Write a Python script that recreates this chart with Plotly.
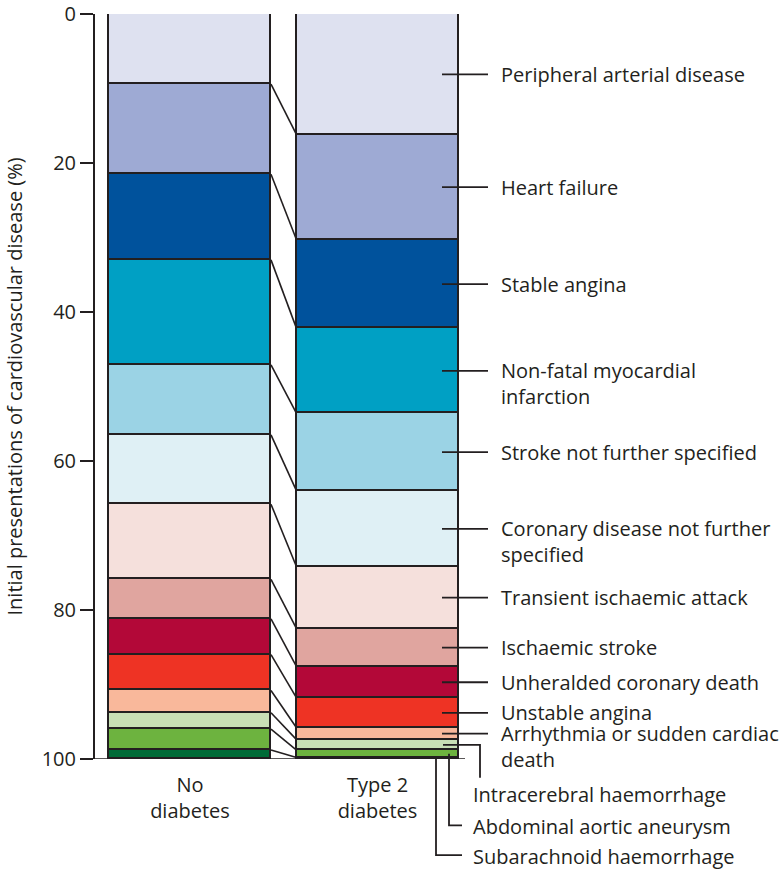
import plotly.graph_objects as go

# ---------------- data ----------------
groups = ["No<br>diabetes", "Type 2<br>diabetes"]
categories = [
    "Peripheral arterial disease",
    "Heart failure",
    "Stable angina",
    "Non-fatal myocardial<br>infarction",
    "Stroke not further specified",
    "Coronary disease not further<br>specified",
    "Transient ischaemic attack",
    "Ischaemic stroke",
    "Unheralded coronary death",
    "Unstable angina",
    "Arrhythmia or sudden cardiac<br>death",
    "Intracerebral haemorrhage",
    "Abdominal aortic aneurysm",
    "Subarachnoid haemorrhage",
]
no_diabetes = [9.4, 12.1, 11.5, 14.1, 9.4, 9.3, 10.1, 5.3, 4.8, 4.8, 3.0, 2.2, 2.8, 1.2]
type2_diabetes = [16.2, 14.1, 11.9, 11.4, 10.4, 10.2, 8.3, 5.1, 4.2, 4.0, 1.6, 1.4, 1.0, 0.2]
colors = [
    "#dee1f0", "#9eaad4", "#00529c", "#00a0c4", "#9bd3e5", "#dff0f5", "#f5e0dc",
    "#e0a59f", "#b30838", "#ee3324", "#f9b89b", "#c8dfb5", "#6db33f", "#006b37",
]
y_ticks = [0, 20, 40, 60, 80, 100]
y_title = "Initial presentations of cardiovascular disease (%)"

# ---------------- layout geometry ----------------
W, H = 783, 871
ML, MR, MT, MB = 95, 0, 7, 112
PW, PH = W - ML - MR, H - MT - MB
UNIT = 187.5                      # pixels between bar centres
XMIN = -(190 - ML) / UNIT
XMAX = XMIN + PW / UNIT
BARW = 162 / UNIT
INK = "#231f20"
FONT = "Open Sans"
FS = 20


def xp(px):
    return XMIN + (px - ML) / UNIT


def px_paper(px):
    return (px - ML) / PW


def py_paper(px):
    return 1 - (px - MT) / PH


def val_paper(v):
    return 1 - v / 100.0


def cum(vals):
    out = [0.0]
    for v in vals:
        out.append(out[-1] + v)
    return out


fig = go.Figure()
for i, cat in enumerate(categories):
    fig.add_trace(go.Bar(
        x=[0, 1], y=[no_diabetes[i], type2_diabetes[i]],
        name=cat.replace("<br>", " "), width=BARW,
        marker=dict(color=colors[i], line=dict(color=INK, width=1.6)),
        hoverinfo="name+y",
    ))

shapes = []
c0, c1 = cum(no_diabetes), cum(type2_diabetes)
# connectors between the bars
for k in range(1, len(categories)):
    shapes.append(dict(type="line", xref="x", yref="y",
                       x0=0 + BARW / 2, y0=c0[k], x1=1 - BARW / 2, y1=c1[k],
                       line=dict(color=INK, width=1.6)))
# baseline
shapes.append(dict(type="line", xref="x", yref="y", x0=XMIN, x1=xp(465), y0=100, y1=100,
                   line=dict(color=INK, width=1.6)))

annotations = []
mids = [(c1[k] + c1[k + 1]) / 2 for k in range(len(categories))]
for k in range(11):
    m = mids[k]
    shapes.append(dict(type="line", xref="x", yref="y", x0=xp(442), x1=xp(488), y0=m, y1=m,
                       line=dict(color=INK, width=1.8)))
    nlines = categories[k].count("<br>") + 1
    annotations.append(dict(x=xp(499), y=m, xref="x", yref="y", text=categories[k],
                            showarrow=False, xanchor="left", yanchor="middle", align="left",
                            yshift=-(nlines - 1) * 13,
                            font=dict(family=FONT, size=FS, color=INK)))

# elbow leaders for the smallest segments
m = mids[11]
shapes.append(dict(type="path", xref="x", yref="paper",
                   path=f"M {xp(443)} {val_paper(m)} L {xp(480)} {val_paper(m)} L {xp(480)} {py_paper(778)}",
                   line=dict(color=INK, width=1.8)))
m = mids[12]
shapes.append(dict(type="path", xref="x", yref="paper",
                   path=f"M {xp(449)} {val_paper(m)} L {xp(449)} {py_paper(826)} L {xp(462)} {py_paper(826)}",
                   line=dict(color=INK, width=1.8)))
m = mids[13]
shapes.append(dict(type="path", xref="x", yref="paper",
                   path=f"M {xp(436)} {val_paper(m)} L {xp(436)} {py_paper(856)} L {xp(462)} {py_paper(856)}",
                   line=dict(color=INK, width=1.8)))
for k, ypx in zip([11, 12, 13], [795, 827, 857]):
    annotations.append(dict(x=xp(471), y=py_paper(ypx), xref="x", yref="paper", text=categories[k],
                            showarrow=False, xanchor="left", yanchor="middle", align="left",
                            font=dict(family=FONT, size=FS, color=INK)))

# y-axis title
annotations.append(dict(x=px_paper(14), y=0.5, xref="paper", yref="paper", text=y_title,
                        textangle=-90, showarrow=False, xanchor="center", yanchor="middle",
                        font=dict(family=FONT, size=FS, color=INK)))

fig.update_layout(
    width=W, height=H,
    margin=dict(l=ML, r=MR, t=MT, b=MB),
    paper_bgcolor="white", plot_bgcolor="white",
    barmode="stack", bargap=0, showlegend=False,
    font=dict(family=FONT, size=FS, color=INK),
    shapes=shapes, annotations=annotations,
    xaxis=dict(range=[XMIN, XMAX], tickvals=[0, 1], ticktext=groups, showgrid=False,
               zeroline=False, showline=False, ticks="", fixedrange=True,
               ticklabelstandoff=12,
               tickfont=dict(family=FONT, size=FS, color=INK)),
    yaxis=dict(range=[100, 0], tickvals=y_ticks, showgrid=False, zeroline=False,
               showline=True, linecolor=INK, linewidth=2, ticks="outside", ticklen=13,
               tickwidth=2, tickcolor=INK, ticklabeloverflow="allow", fixedrange=True,
               tickfont=dict(family=FONT, size=FS, color=INK)),
)

fig.write_html("out.html", config={"displayModeBar": False},
               post_script="document.body.style.margin='0';")
